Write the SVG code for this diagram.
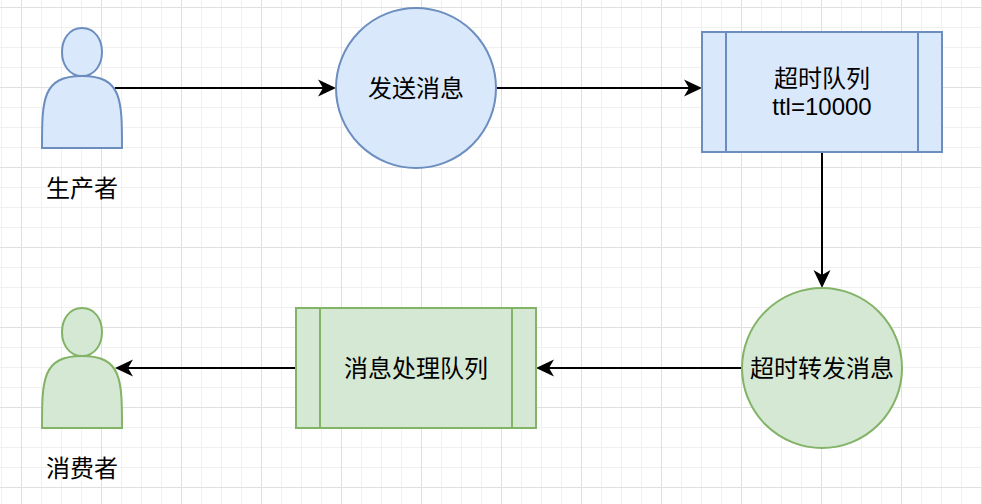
<svg xmlns="http://www.w3.org/2000/svg" width="982" height="504" viewBox="0 0 982 504">
  <defs>
    <pattern id="grid" x="21" y="7" width="80" height="80" patternUnits="userSpaceOnUse">
      <path d="M20.5,0V80M40.5,0V80M60.5,0V80M0,20.5H80M0,40.5H80M0,60.5H80" stroke="#f0f0f0" stroke-width="1" fill="none"/>
      <path d="M0.5,0V80M0,0.5H80" stroke="#e0e0e0" stroke-width="1" fill="none"/>
    </pattern>
    <marker id="arrow" viewBox="-10 -10 22 20" refX="0" refY="0" markerWidth="22" markerHeight="20" markerUnits="userSpaceOnUse" orient="auto">
      <path d="M10,0 L-8,-8.5 L-3,0 L-8,8.5 Z" fill="#000000" stroke="none"/>
    </marker>
  </defs>
  <style>
    .blue { fill: #dae8fc; stroke: #6c8ebf; stroke-width: 2; }
    .green { fill: #d5e8d4; stroke: #82b366; stroke-width: 2; }
    .lbl { font-family: "Liberation Sans", "Noto Sans CJK SC", sans-serif; font-size: 24px; fill: #000000; text-anchor: middle; }
    .edge { stroke: #000000; stroke-width: 2; fill: none; marker-end: url(#arrow); }
  </style>
  <rect x="0" y="0" width="982" height="504" fill="#ffffff"/>
  <rect x="0" y="0" width="982" height="504" fill="url(#grid)"/>

  <g id="connectors">
    <path class="edge" d="M115,88 H326"/>
    <path class="edge" d="M496,88 H692"/>
    <path class="edge" d="M822,152 V278"/>
    <path class="edge" d="M742,368 H546"/>
    <path class="edge" d="M296,368 H125"/>
  </g>

  <g id="producer">
    <path class="blue" d="M42,148 C42,100 42,76 82,76 C55.33,76 55.33,28 82,28 C108.67,28 108.67,76 82,76 C122,76 122,100 122,148 Z"/>
    <text class="lbl" x="82" y="197">生产者</text>
  </g>

  <g id="send">
    <circle class="blue" cx="416" cy="88" r="80"/>
    <text class="lbl" x="416" y="97">发送消息</text>
  </g>

  <g id="ttlQueue">
    <rect class="blue" x="702" y="32" width="240" height="120"/>
    <path class="blue" d="M726,32 V152 M918,32 V152" fill="none"/>
    <text class="lbl" x="822" y="87">超时队列</text>
    <text class="lbl" x="822" y="115">ttl=10000</text>
  </g>

  <g id="forward">
    <circle class="green" cx="822" cy="368" r="80"/>
    <text class="lbl" x="822" y="377">超时转发消息</text>
  </g>

  <g id="procQueue">
    <rect class="green" x="296" y="308" width="240" height="120"/>
    <path class="green" d="M320,308 V428 M512,308 V428" fill="none"/>
    <text class="lbl" x="416" y="377">消息处理队列</text>
  </g>

  <g id="consumer">
    <path class="green" d="M42,428 C42,380 42,356 82,356 C55.33,356 55.33,308 82,308 C108.67,308 108.67,356 82,356 C122,356 122,380 122,428 Z"/>
    <text class="lbl" x="82" y="477">消费者</text>
  </g>
</svg>
